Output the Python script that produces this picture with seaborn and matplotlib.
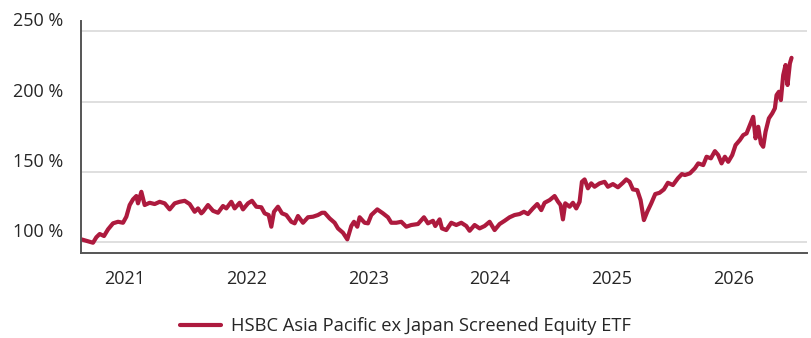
import matplotlib
matplotlib.use("Agg")
import matplotlib.pyplot as plt
from matplotlib.transforms import ScaledTranslation
import matplotlib.dates as mdates
import pandas as pd
import seaborn as sns

# Cumulative performance of the fund, indexed to 100 % at launch
dates = [
    "2020-08-23", "2020-09-07", "2020-09-27", "2020-10-07", "2020-10-17", "2020-10-30",
    "2020-11-11", "2020-11-26", "2020-12-11", "2020-12-26",
    "2021-01-05", "2021-01-15", "2021-01-25", "2021-02-04", "2021-02-09", "2021-02-19",
    "2021-03-01", "2021-03-16", "2021-03-31", "2021-04-15", "2021-04-30", "2021-05-15",
    "2021-05-30", "2021-06-14", "2021-06-29", "2021-07-14", "2021-07-29", "2021-08-08",
    "2021-08-18", "2021-08-23", "2021-09-07", "2021-09-22", "2021-10-07", "2021-10-22",
    "2021-11-01", "2021-11-16", "2021-11-26", "2021-12-11", "2021-12-21",
    "2022-01-05", "2022-01-17", "2022-01-30", "2022-02-14", "2022-02-24", "2022-03-08",
    "2022-03-16", "2022-03-24", "2022-04-05", "2022-04-17", "2022-04-30", "2022-05-15",
    "2022-05-25", "2022-06-04", "2022-06-19", "2022-07-04", "2022-07-19", "2022-08-03",
    "2022-08-15", "2022-08-23", "2022-09-07", "2022-09-22", "2022-10-02", "2022-10-17",
    "2022-10-30", "2022-11-11", "2022-11-19", "2022-11-29", "2022-12-06", "2022-12-21",
    "2022-12-31",
    "2023-01-10", "2023-01-28", "2023-02-14", "2023-03-01", "2023-03-11", "2023-03-26",
    "2023-04-10", "2023-04-25", "2023-05-10", "2023-05-30", "2023-06-17", "2023-06-29",
    "2023-07-14", "2023-07-21", "2023-08-03", "2023-08-10", "2023-08-23", "2023-09-07",
    "2023-09-22", "2023-10-07", "2023-10-22", "2023-11-01", "2023-11-16", "2023-12-01",
    "2023-12-16", "2023-12-31",
    "2024-01-15", "2024-01-30", "2024-02-14", "2024-02-29", "2024-03-15", "2024-03-30",
    "2024-04-12", "2024-04-24", "2024-05-09", "2024-05-22", "2024-06-03", "2024-06-13",
    "2024-06-28", "2024-07-13", "2024-07-23", "2024-07-31", "2024-08-07", "2024-08-14",
    "2024-08-27", "2024-09-06", "2024-09-16", "2024-09-26", "2024-10-03", "2024-10-11",
    "2024-10-21", "2024-10-31", "2024-11-10", "2024-11-25", "2024-12-10", "2024-12-20",
    "2025-01-04", "2025-01-19", "2025-02-03", "2025-02-13", "2025-02-23", "2025-03-05",
    "2025-03-18", "2025-03-28", "2025-04-07", "2025-04-17", "2025-04-29", "2025-05-11",
    "2025-05-24", "2025-06-06", "2025-06-18", "2025-07-03", "2025-07-18", "2025-07-30",
    "2025-08-08", "2025-08-23", "2025-09-07", "2025-09-17", "2025-10-02", "2025-10-12",
    "2025-10-25", "2025-11-06", "2025-11-16", "2025-11-26", "2025-12-06", "2025-12-16",
    "2025-12-28",
    "2026-01-07", "2026-01-20", "2026-01-30", "2026-02-09", "2026-02-19", "2026-03-01",
    "2026-03-08", "2026-03-16", "2026-03-24", "2026-03-31", "2026-04-07", "2026-04-17",
    "2026-04-27", "2026-05-05", "2026-05-10", "2026-05-17", "2026-05-23", "2026-05-30",
    "2026-06-06", "2026-06-12", "2026-06-19", "2026-06-24",
]
performance = [
    102.1, 101.1, 99.7, 103.6, 105.9, 104.5,
    109.2, 113.5, 114.6, 113.9,
    118.2, 126.5, 130.5, 132.9, 127.7, 135.9,
    126.5, 128.1, 127.2, 128.8, 127.7, 123.4,
    127.7, 128.8, 129.5, 127.2, 121.7, 124.1,
    120.6, 121.7, 126.5, 122.4, 121.0, 125.8,
    124.1, 128.8, 124.1, 128.1, 123.4,
    127.7, 129.5, 125.3, 124.9, 120.6, 119.4,
    111.1, 121.7, 125.3, 120.6, 119.4, 114.6,
    113.5, 118.7, 113.9, 117.8, 118.2, 119.4,
    121.0, 121.0, 117.0, 113.9, 109.9, 106.8,
    102.1, 111.6, 114.6, 111.1, 117.8, 113.9,
    113.5,
    119.4, 123.4, 120.6, 117.8, 113.9, 113.9,
    114.6, 111.1, 112.3, 113.0, 117.8, 113.5,
    115.3, 111.6, 116.3, 109.9, 108.7, 113.9,
    112.3, 113.9, 111.6, 108.2, 112.3, 109.9,
    111.6, 114.6,
    108.7, 113.0, 115.3, 117.8, 119.4, 120.1,
    121.7, 120.1, 124.1, 127.2, 122.9, 128.1,
    130.0, 132.9, 129.0, 126.5, 116.3, 127.7,
    125.3, 128.1, 124.1, 128.8, 143.0, 144.7,
    138.4, 141.9, 139.5, 141.9, 143.0, 139.5,
    141.4, 139.1, 142.3, 144.7, 143.0, 137.6,
    137.1, 130.0, 115.8, 121.7, 127.7, 134.3,
    135.2, 137.6, 142.3, 140.7, 145.5, 148.5,
    147.8, 149.0, 152.6, 156.1, 154.9, 160.8,
    159.7, 164.8, 162.0, 156.1, 160.8, 157.2,
    162.0,
    169.1, 172.7, 176.2, 177.4, 183.3, 189.2,
    173.9, 182.1, 170.3, 167.9, 178.6, 188.1,
    191.6, 195.2, 204.6, 207.0, 201.1, 218.8,
    226.0, 211.8, 227.1, 231.1,
]
series_name = "HSBC Asia Pacific ex Japan Screened Equity ETF"
y_ticks = [100, 150, 200, 250]
year_ticks = ["2021", "2022", "2023", "2024", "2025", "2026"]

df = pd.DataFrame({"date": pd.to_datetime(dates), "value": performance})

sns.set_theme(style="white")
plt.rcParams["font.family"] = ["Open Sans", "DejaVu Sans"]

line_color = "#ad1a3e"
text_color = "#262626"
font_size = 13

fig = plt.figure(figsize=(8.11, 3.38), dpi=100)
ax = fig.add_axes([0.0999, 0.2506, 0.8946, 0.6882])

sns.lineplot(data=df, x="date", y="value", ax=ax, color=line_color,
             linewidth=3.0, label=series_name, legend=False)

ax.set_ylim(92.2, 257.5)
ax.set_xlim(pd.Timestamp("2020-08-22"), pd.Timestamp("2026-08-08"))

ax.set_yticks(y_ticks)
ax.set_yticklabels([f"{v} %" for v in y_ticks])
ax.set_xticks(pd.to_datetime([f"{y}-01-01" for y in year_ticks]))
ax.xaxis.set_major_formatter(mdates.DateFormatter("%Y"))

ax.grid(axis="y", color="#d9d9d9", linewidth=1.2)
ax.grid(axis="x", visible=False)
ax.set_axisbelow(True)

for side in ("top", "right"):
    ax.spines[side].set_visible(False)
for side in ("left", "bottom"):
    ax.spines[side].set_color("#555555")
    ax.spines[side].set_linewidth(1.4)

ax.tick_params(axis="y", length=0, pad=13, labelsize=font_size, labelcolor=text_color)
ax.tick_params(axis="x", length=0, pad=12, labelsize=font_size, labelcolor=text_color)
ax.set_xlabel("")
ax.set_ylabel("")

# y labels sit just above their gridlines
lift = ScaledTranslation(0, 10 / 100, fig.dpi_scale_trans)
for lab in ax.get_yticklabels():
    lab.set_verticalalignment("center")
    lab.set_transform(lab.get_transform() + lift)

handles, labels = ax.get_legend_handles_labels()
fig.legend(handles, labels, loc="center", bbox_to_anchor=(0.5, 1 - 326 / 338),
           frameon=False, fontsize=13.2, handlelength=2.2, handletextpad=0.55,
           labelcolor=text_color)

fig.savefig("out.png", dpi=100)
